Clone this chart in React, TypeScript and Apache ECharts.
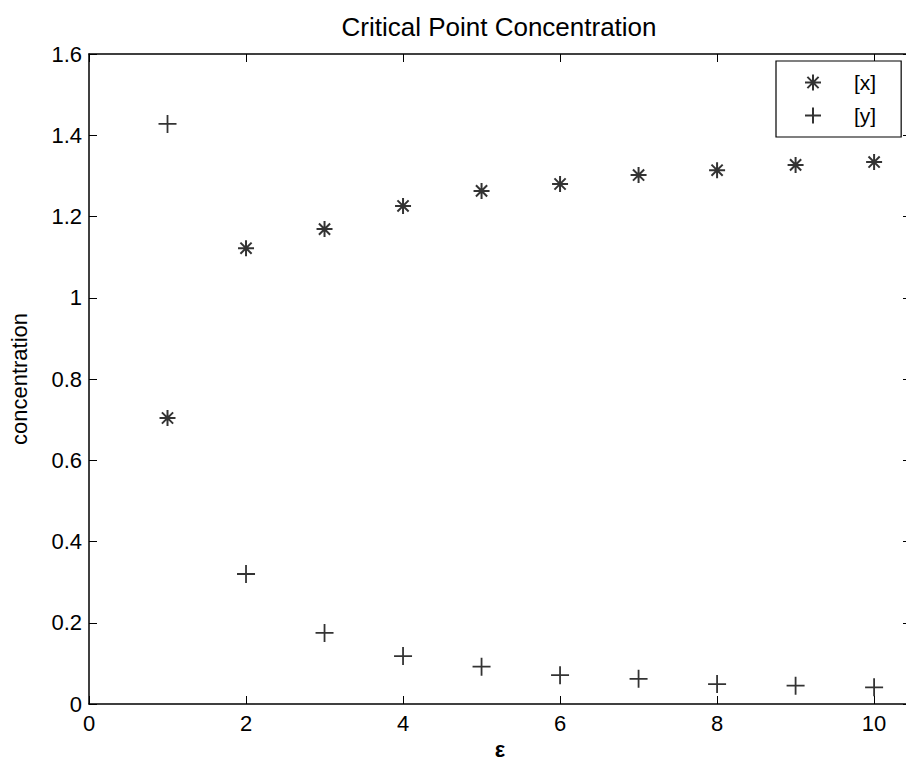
import React, { useEffect, useRef } from "react";
import * as echarts from "echarts";

const titleText = "Critical Point Concentration";
const xAxisName = "ε";
const yAxisName = "concentration";
const seriesNames = ["[x]", "[y]"];
const xValues = [1, 2, 3, 4, 5, 6, 7, 8, 9, 10];
const xConcentration = [0.704, 1.122, 1.169, 1.226, 1.263, 1.28, 1.302, 1.314, 1.327, 1.334];
const yConcentration = [1.428, 0.32, 0.175, 0.118, 0.092, 0.071, 0.062, 0.049, 0.045, 0.041];
const xTickValues = [0, 2, 4, 6, 8, 10];
const yTickValues = [0, 0.2, 0.4, 0.6, 0.8, 1, 1.2, 1.4, 1.6];

const STAR = "path://M0,-8L0,8M-8,0L8,0M-5.6,-5.6L5.6,5.6M-5.6,5.6L5.6,-5.6";
const PLUS = "path://M0,-9L0,9M-9,0L9,0";
const FONT = "'Liberation Sans', Arial, sans-serif";

export default function App() {
  const ref = useRef<HTMLDivElement>(null);
  useEffect(() => {
    if (!ref.current) return;
    const chart = echarts.init(ref.current, null, { renderer: "svg" });
    const xMin = xTickValues[0];
    const xMax = 10.47;
    const yMin = yTickValues[0];
    const yMax = yTickValues[yTickValues.length - 1];
    const mkLine = () => ({ show: true, onZero: false, lineStyle: { color: "#000", width: 1.5 } });
    const mkTick = () => ({ show: true, inside: true, length: 8, lineStyle: { color: "#000", width: 1 } });
    const labelStyle = { fontFamily: FONT, fontSize: 22, color: "#000" };
    const xFmt = (v: number) => (xTickValues.includes(v) ? String(v) : "");
    chart.setOption({
      animation: false,
      backgroundColor: "#fff",
      title: {
        text: titleText,
        left: 499,
        top: 14,
        textAlign: "center",
        padding: 0,
        textStyle: { fontFamily: FONT, fontSize: 26, fontWeight: "normal", color: "#000" },
      },
      legend: {
        orient: "vertical",
        left: 776,
        top: 61,
        padding: [11, 25, 11, 28],
        itemGap: 12,
        itemWidth: 16,
        itemHeight: 16,
        borderColor: "#000",
        borderWidth: 1.2,
        borderRadius: 0,
        backgroundColor: "#fff",
        selectedMode: false,
        textStyle: { fontFamily: FONT, fontSize: 21, color: "#000", padding: [0, 0, 0, 28] },
        data: [
          { name: seriesNames[0], icon: STAR },
          { name: seriesNames[1], icon: PLUS },
        ],
      },
      grid: { left: 89, top: 54, right: -5, bottom: 58, outerBoundsMode: "none", containLabel: false },
      xAxis: [
        {
          type: "value",
          position: "bottom",
          min: xMin,
          max: xMax,
          interval: 2,
          axisLine: mkLine(),
          axisTick: mkTick(),
          splitLine: { show: false },
          axisLabel: { ...labelStyle, margin: 8, formatter: xFmt, showMaxLabel: false },
          name: xAxisName,
          nameLocation: "middle",
          nameGap: 22,
          nameTextStyle: { fontFamily: FONT, fontSize: 22, fontWeight: "bold", color: "#000" },
        },
        {
          type: "value",
          position: "top",
          min: xMin,
          max: xMax,
          interval: 2,
          axisLine: mkLine(),
          axisTick: mkTick(),
          splitLine: { show: false },
          axisLabel: { show: false },
        },
      ],
      yAxis: [
        {
          type: "value",
          position: "left",
          min: yMin,
          max: yMax,
          interval: 0.2,
          axisLine: mkLine(),
          axisTick: mkTick(),
          splitLine: { show: false },
          axisLabel: { ...labelStyle, margin: 7 },
          name: yAxisName,
          nameLocation: "middle",
          nameGap: 59,
          nameTextStyle: { fontFamily: FONT, fontSize: 22, color: "#000" },
        },
        {
          type: "value",
          position: "right",
          min: yMin,
          max: yMax,
          interval: 0.2,
          axisLine: mkLine(),
          axisTick: mkTick(),
          splitLine: { show: false },
          axisLabel: { show: false },
        },
      ],
      series: [
        {
          type: "scatter",
          name: seriesNames[0],
          data: xValues.map((x, i) => [x, xConcentration[i]]),
          symbol: STAR,
          symbolSize: 16,
          itemStyle: { color: "#000", borderColor: "#000", borderWidth: 2 },
        },
        {
          type: "scatter",
          name: seriesNames[1],
          data: xValues.map((x, i) => [x, yConcentration[i]]),
          symbol: PLUS,
          symbolSize: 18,
          itemStyle: { color: "#000", borderColor: "#000", borderWidth: 1.8 },
        },
      ],
    });
    return () => chart.dispose();
  }, []);
  return (
    <div
      ref={ref}
      style={{ position: "absolute", left: 0, top: 0, width: 906, height: 762 }}
    />
  );
}
